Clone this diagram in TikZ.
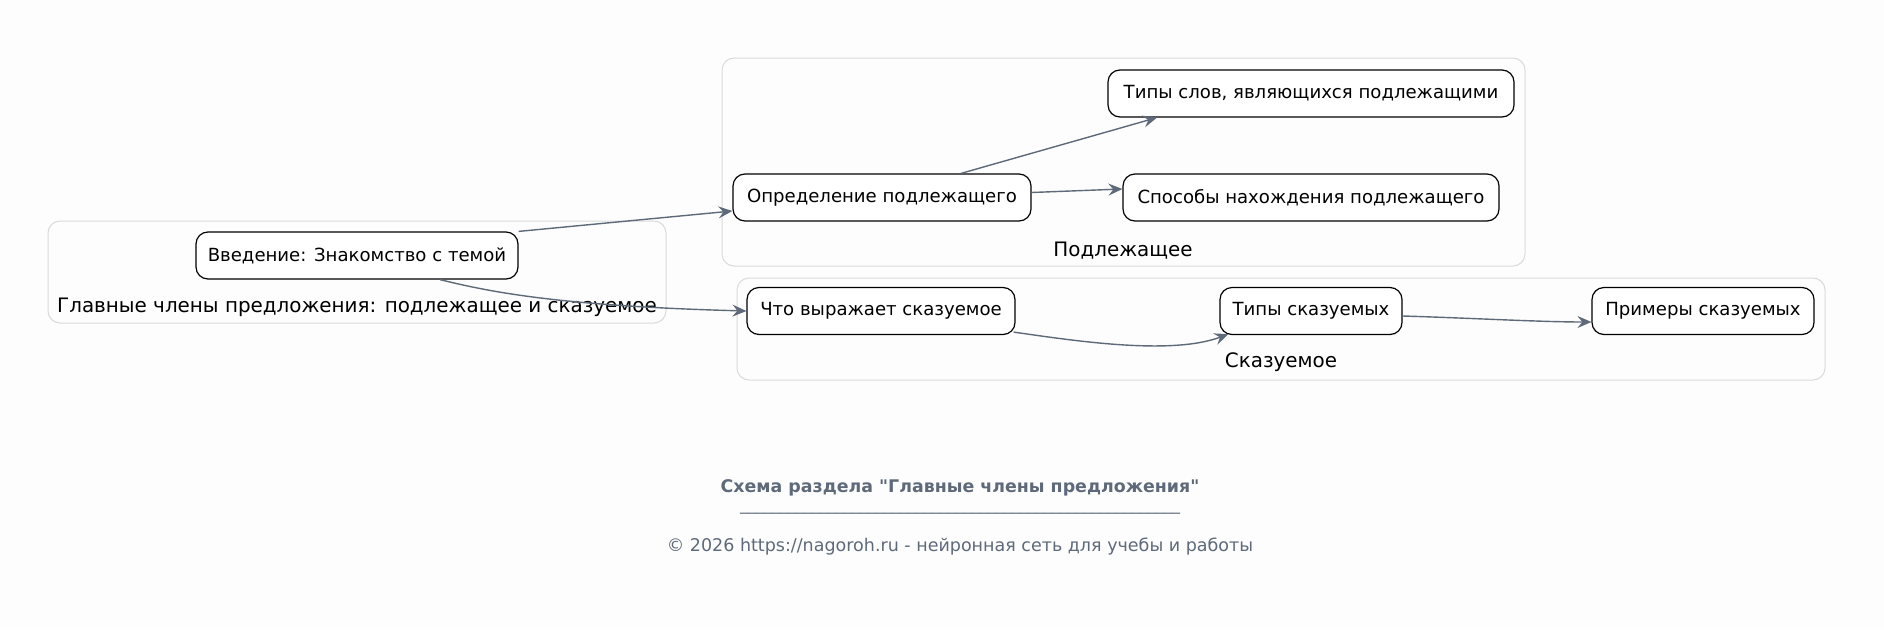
\documentclass[tikz,border=0pt]{standalone}
\usepackage{fontspec}
\setmainfont{DejaVu Sans}
\newfontfamily\plainfont{DejaVu Sans}
\usetikzlibrary{arrows.meta}
\definecolor{bg}{RGB}{253,253,253}
\definecolor{edgec}{RGB}{94,106,122}
\definecolor{clc}{RGB}{218,218,218}
\definecolor{titlec}{RGB}{94,106,122}
\tikzset{
  box/.style={draw=black, line width=1.2pt, rounded corners=12pt, fill=white,
    minimum height=47pt, inner sep=0pt, font=\fontsize{18.1}{21}\selectfont, text=black},
  cluster/.style={draw=clc, line width=1pt, rounded corners=12pt},
  clab/.style={font=\fontsize{19.9}{24}\selectfont, text=black, inner sep=0pt},
  edge/.style={draw=edgec, line width=1.4pt, -{Stealth[length=14pt,width=12pt,inset=5pt]}},
}
\begin{document}
\begin{tikzpicture}[x=1pt,y=-1pt]
\fill[bg] (0,0) rectangle (1884,629);
\useasboundingbox (0,0) rectangle (1884,629);
% clusters
\draw[cluster] (48,221) rectangle (666,323);
\draw[cluster] (722,58) rectangle (1525,266);
\draw[cluster] (737,278) rectangle (1825,380);
\node[clab] (lmain) at (357,307.5) {Главные члены предложения: подлежащее и сказуемое};
\node[clab] (lsubj) at (1123,250.5) {Подлежащее};
\node[clab] (lpred) at (1281,362.5) {Сказуемое};
% nodes
\node[box, minimum width=322pt] (intro) at (357,255.5) {Введение: Знакомство с темой};
\node[box, minimum width=298pt] (def) at (882,197.5) {Определение подлежащего};
\node[box, minimum width=406pt] (types) at (1311,93.5) {Типы слов, являющихся подлежащими};
\node[box, minimum width=376pt] (ways) at (1311,197.5) {Способы нахождения подлежащего};
\node[box, minimum width=268pt] (what) at (881,311) {Что выражает сказуемое};
\node[box, minimum width=182pt] (ptypes) at (1311,311) {Типы сказуемых};
\node[box, minimum width=222pt] (examples) at (1703,311) {Примеры сказуемых};
% edges
\draw[edge] (intro.north east) -- ([yshift=-13.5pt]def.west);
\draw[edge] ([xshift=83pt]intro.south) .. controls (490,292) and (560,306) .. (what.west);
\draw[edge] ([xshift=79pt]def.north) -- ([xshift=-154pt]types.south);
\draw[edge] ([yshift=5pt]def.east) -- ([yshift=8.5pt]ways.west);
\draw[edge] ([xshift=-2pt,yshift=3pt]what.south east) .. controls (1070,340) and (1170,356) .. ([xshift=9pt,yshift=1pt]ptypes.south west);
\draw[edge] ([yshift=-5pt]ptypes.east) .. controls (1470,318) and (1540,322) .. ([yshift=-11pt]examples.west);
% footer
\node[font=\plainfont\fontsize{17.4}{20}\selectfont\bfseries, text=titlec] (title) at (960,487.5) {Схема раздела "Главные члены предложения"};
\node[font=\fontsize{16}{19}\selectfont, text=titlec, anchor=base] (rule) at (960,510) {\_\_\_\_\_\_\_\_\_\_\_\_\_\_\_\_\_\_\_\_\_\_\_\_\_\_\_\_\_\_\_\_\_\_\_\_\_\_\_\_\_\_\_\_\_\_\_\_\_\_\_\_\_\_\_};
\node[font=\plainfont\fontsize{17.5}{20}\selectfont, text=titlec] (foot) at (960,546.5) {© 2026 https://nagoroh.ru - нейронная сеть для учебы и работы};
\end{tikzpicture}
\end{document}
